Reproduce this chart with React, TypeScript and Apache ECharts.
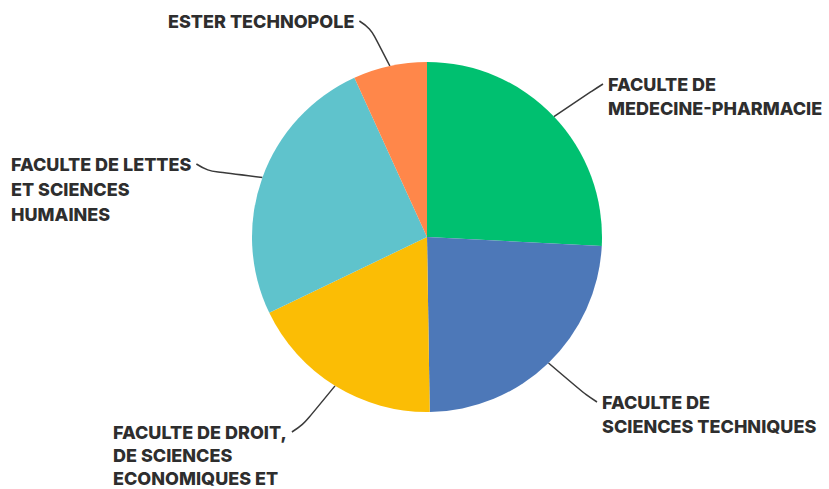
import React, { useEffect, useRef } from "react";
import * as echarts from "echarts";

// Data
const categories = [
  "FACULTE DE MEDECINE-PHARMACIE",
  "FACULTE DE SCIENCES TECHNIQUES",
  "FACULTE DE DROIT, DE SCIENCES ECONOMIQUES ET",
  "FACULTE DE LETTES ET SCIENCES HUMAINES",
  "ESTER TECHNOPOLE",
];
const labelTexts = [
  "FACULTE DE\nMEDECINE-PHARMACIE",
  "FACULTE DE\nSCIENCES TECHNIQUES",
  "FACULTE DE DROIT,\nDE SCIENCES\nECONOMIQUES ET",
  "FACULTE DE LETTES\nET SCIENCES\nHUMAINES",
  "ESTER TECHNOPOLE",
];
const values = [25.8, 23.9, 18.1, 25.3, 6.8];
const colors = ["#00c070", "#4d78b8", "#fbbd05", "#5fc3cc", "#ff874a"];

// Label placement: left x of text, centre y of first line, line height
const labelPlacement = [
  { left: 608, firstY: 84, lineHeight: 24 },
  { left: 602, firstY: 402, lineHeight: 24 },
  { left: 113, firstY: 432, lineHeight: 23 },
  { left: 11, firstY: 164, lineHeight: 25 },
  { left: 168, firstY: 21, lineHeight: 24 },
];

export default function App() {
  const ref = useRef<HTMLDivElement>(null);
  useEffect(() => {
    document.body.style.margin = "0";
    if (!ref.current) return;
    const chart = echarts.init(ref.current, undefined, { renderer: "svg" });
    const data = categories.map((name, i) => ({
      name,
      value: values[i],
      itemStyle: { color: colors[i] },
      label: { lineHeight: labelPlacement[i].lineHeight },
    }));
    chart.setOption({
      animation: false,
      backgroundColor: "#ffffff",
      series: [
        {
          type: "pie",
          center: [427, 237],
          radius: 175,
          startAngle: 90,
          clockwise: true,
          avoidLabelOverlap: false,
          silent: true,
          itemStyle: { borderWidth: 0 },
          emphasis: { disabled: true },
          data,
          label: {
            show: true,
            position: "outside",
            formatter: (p: any) => labelTexts[p.dataIndex],
            fontFamily: "Inter",
            fontWeight: 800,
            fontSize: 18,
            color: "#2e2e2e",
            align: "left",
          },
          labelLine: {
            show: true,
            smooth: 0.4,
            length: 15,
            length2: 15,
            lineStyle: { color: "#3a3a3a", width: 1.5 },
          },
          labelLayout: (p: any) => {
            const pl = labelPlacement[p.dataIndex];
            const w = p.labelRect.width;
            const top = pl.firstY - pl.lineHeight / 2;
            const start = p.labelLinePoints ? p.labelLinePoints[0] : [427, 237];
            const labelRight = pl.left + w;
            const gap = 5;
            const endX = labelRight < start[0] ? labelRight + gap : pl.left - gap;
            const endY = pl.firstY;
            const hdir = Math.sign(start[0] - endX);
            const vdir = Math.sign(start[1] - endY);
            const mid = [endX + hdir * 11, endY + vdir * 7];
            return {
              x: pl.left,
              y: top,
              align: "left",
              verticalAlign: "top",
              labelLinePoints: [start, mid, [endX, endY]],
            };
          },
        },
      ],
    });
    return () => chart.dispose();
  }, []);
  return <div ref={ref} style={{ width: 829, height: 489 }} />;
}
